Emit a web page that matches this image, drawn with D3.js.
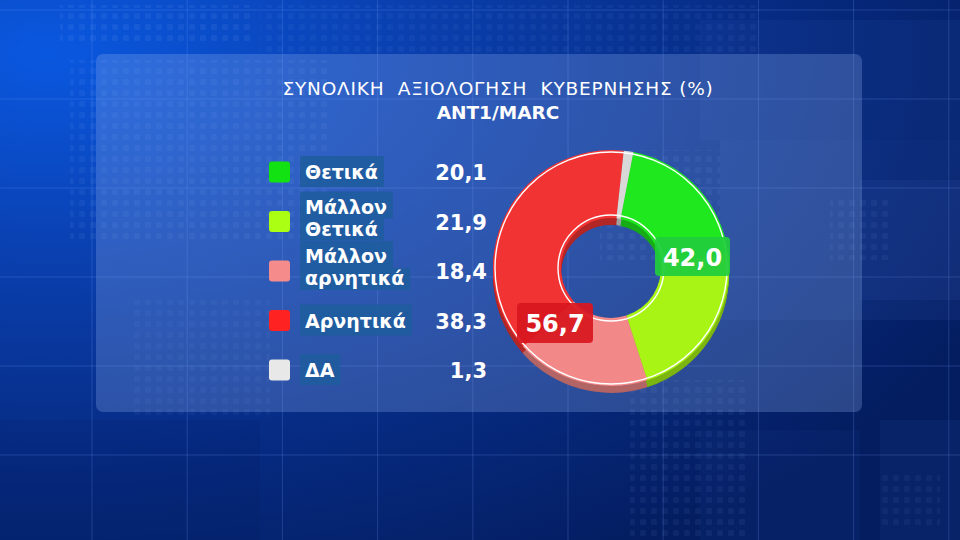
<!DOCTYPE html>
<html><head><meta charset="utf-8">
<script src="https://cdn.jsdelivr.net/npm/d3@7"></script>
<style>html,body{margin:0;padding:0;background:#0b2f86;}svg{display:block;}</style>
</head><body>
<svg id="chart" width="960" height="540"></svg>
<script>
const title = "ΣΥΝΟΛΙΚΗ  ΑΞΙΟΛΟΓΗΣΗ  ΚΥΒΕΡΝΗΣΗΣ (%)";
const subtitle = "ANT1/MARC";
const categories = ["Θετικά", "Μάλλον Θετικά", "Μάλλον αρνητικά", "Αρνητικά", "ΔΑ"];
const labelLines = [["Θετικά"], ["Μάλλον", "Θετικά"], ["Μάλλον", "αρνητικά"], ["Αρνητικά"], ["ΔΑ"]];
const values = [20.1, 21.9, 18.4, 38.3, 1.3];
const valueLabels = ["20,1", "21,9", "18,4", "38,3", "1,3"];
const sliceColors = ["#1fe81f", "#a8f515", "#f38888", "#f23333", "#d8d8d8"];
const legendColors = ["#12e212", "#aaff12", "#f58b8b", "#ff2222", "#e8e8e8"];
const groupLabels = ["42,0", "56,7"];

const svg = d3.select("#chart");
const W = 960, H = 540;
const defs = svg.append("defs");

// background
const bg = defs.append("radialGradient").attr("id", "bg").attr("cx", "0.05").attr("cy", "0.1").attr("r", "1.1");
bg.append("stop").attr("offset", "0").attr("stop-color", "#0a58e0");
bg.append("stop").attr("offset", "0.35").attr("stop-color", "#0a3fae");
bg.append("stop").attr("offset", "0.7").attr("stop-color", "#062a80");
bg.append("stop").attr("offset", "1").attr("stop-color", "#041d60");
svg.append("rect").attr("width", W).attr("height", H).attr("fill", "url(#bg)");

// decorative blocks
const blocks = [[700, 20, 260, 120, 0.05], [720, 140, 240, 180, 0.07], [860, 180, 100, 120, 0.06],
                [700, 430, 160, 110, 0.04], [0, 420, 260, 120, -0.05], [880, 420, 80, 120, 0.05]];
svg.selectAll("rect.blk").data(blocks).join("rect").attr("class", "blk")
  .attr("x", d => d[0]).attr("y", d => d[1]).attr("width", d => d[2]).attr("height", d => d[3])
  .attr("fill", d => d[4] > 0 ? "#6fa0ff" : "#000020").attr("opacity", d => Math.abs(d[4]));

// dot patterns
const pat = defs.append("pattern").attr("id", "dots").attr("width", 11).attr("height", 11).attr("patternUnits", "userSpaceOnUse");
pat.append("rect").attr("x", 2).attr("y", 2).attr("width", 6).attr("height", 6).attr("rx", 1.5).attr("fill", "#9cc0ff");
const dotAreas = [[60, 5, 190, 40, 0.08], [70, 60, 260, 180, 0.07], [130, 300, 140, 120, 0.05],
                  [260, 5, 500, 50, 0.05], [600, 150, 120, 110, 0.07], [630, 380, 120, 160, 0.06], [830, 200, 60, 60, 0.06], [880, 470, 60, 60, 0.05]];
svg.selectAll("rect.dot").data(dotAreas).join("rect").attr("class", "dot")
  .attr("x", d => d[0]).attr("y", d => d[1]).attr("width", d => d[2]).attr("height", d => d[3])
  .attr("fill", "url(#dots)").attr("opacity", d => d[4]);

// grid lines
const vx = d3.range(-3, 10).map(i => 92 + i * 95.2);
const hy = d3.range(-1, 6).map(i => 99 + i * 89);
svg.selectAll("line.v").data(vx).join("line").attr("class", "v")
  .attr("x1", d => d).attr("x2", d => d).attr("y1", 0).attr("y2", H)
  .attr("stroke", "#7aa4ff").attr("stroke-opacity", 0.22).attr("stroke-width", 1);
svg.selectAll("line.h").data(hy).join("line").attr("class", "h")
  .attr("y1", d => d).attr("y2", d => d).attr("x1", 0).attr("x2", W)
  .attr("stroke", "#7aa4ff").attr("stroke-opacity", 0.22).attr("stroke-width", 1);

// panel
svg.append("rect").attr("x", 96).attr("y", 54).attr("width", 766).attr("height", 358).attr("rx", 7)
  .attr("fill", "#8fb0ee").attr("fill-opacity", 0.28);

const FONT = "'DejaVu Sans', 'Noto Sans', sans-serif";

// title
svg.append("text").attr("x", 498).attr("y", 95).attr("text-anchor", "middle")
  .attr("font-family", FONT).attr("font-size", 18.5).attr("fill", "#ffffff").attr("letter-spacing", 0.8)
  .style("white-space", "pre").text(title);
svg.append("text").attr("x", 498).attr("y", 119).attr("text-anchor", "middle")
  .attr("font-family", FONT).attr("font-weight", "bold").attr("font-size", 18.5).attr("fill", "#ffffff")
  .text(subtitle);

// legend
const yRow = d3.scalePoint().domain(categories).range([172, 370]);
const leg = svg.append("g");
categories.forEach((c, i) => {
  const cy = yRow(c);
  leg.append("rect").attr("x", 269).attr("y", cy - 10.5).attr("width", 21).attr("height", 21).attr("rx", 3)
    .attr("fill", legendColors[i]);
  const lines = labelLines[i];
  lines.forEach((ln, j) => {
    const g = leg.append("g");
    const boxH = lines.length === 1 ? 31 : (j === 0 ? 27 : 22);
    const by = lines.length === 1 ? cy - 16 : (j === 0 ? cy - 30 : cy - 3);
    const rect = g.append("rect").attr("x", 300).attr("y", by).attr("height", boxH).attr("fill", "#1f5c9e").attr("fill-opacity", 0.92);
    const tyy = lines.length === 1 ? cy + 7 : (j === 0 ? cy - 8 : cy + 14);
    const t = g.append("text").attr("x", 305).attr("y", tyy).attr("font-family", FONT).attr("font-weight", "bold")
      .attr("font-size", 19).attr("fill", "#ffffff").text(ln);
    rect.attr("width", t.node().getComputedTextLength() + 11);
  });
  leg.append("text").attr("x", 487).attr("y", cy + 8).attr("text-anchor", "end")
    .attr("font-family", FONT).attr("font-weight", "bold").attr("font-size", 21).attr("fill", "#ffffff")
    .text(valueLabels[i]);
});

// donut
const cx = 611, cyD = 268, rOut = 118, rIn = 50, depth = 7;
const startA = 0.19;
const pie = d3.pie().sort(null).value(d => d).startAngle(startA).endAngle(startA + 2 * Math.PI);
const arcs = pie(values);
const arc = d3.arc().innerRadius(rIn).outerRadius(rOut);

const bottom = svg.append("g").attr("transform", `translate(${cx},${cyD + depth})`);
bottom.selectAll("path").data(arcs).join("path").attr("d", arc)
  .attr("fill", (d, i) => d3.color(sliceColors[i]).darker(0.9));
for (let k = 1; k < depth; k++) {
  svg.append("g").attr("transform", `translate(${cx},${cyD + k})`).selectAll("path").data(arcs).join("path").attr("d", arc)
    .attr("fill", (d, i) => d3.color(sliceColors[i]).darker(0.55 + 0.05 * k));
}
const topG = svg.append("g").attr("transform", `translate(${cx},${cyD})`);
topG.selectAll("path").data(arcs).join("path").attr("d", arc).attr("fill", (d, i) => sliceColors[i]);
topG.append("circle").attr("r", rOut - 2).attr("fill", "none").attr("stroke", "#ffffff").attr("stroke-width", 1.4);
topG.append("circle").attr("r", rIn + 3).attr("fill", "none").attr("stroke", "#ffffff").attr("stroke-width", 1.4);

// group labels
const gl = [{x: 655, y: 237, w: 75, h: 39, fill: "#20cc3c"}, {x: 517, y: 303, w: 76, h: 40, fill: "#d8171f"}];
groupLabels.forEach((lab, i) => {
  const b = gl[i];
  svg.append("rect").attr("x", b.x).attr("y", b.y).attr("width", b.w).attr("height", b.h).attr("rx", 4)
    .attr("fill", b.fill).attr("fill-opacity", 0.93);
  svg.append("text").attr("x", b.x + b.w / 2).attr("y", b.y + b.h / 2 + 9).attr("text-anchor", "middle")
    .attr("font-family", FONT).attr("font-weight", "bold").attr("font-size", 24).attr("fill", "#ffffff").text(lab);
});
</script>
</body></html>
